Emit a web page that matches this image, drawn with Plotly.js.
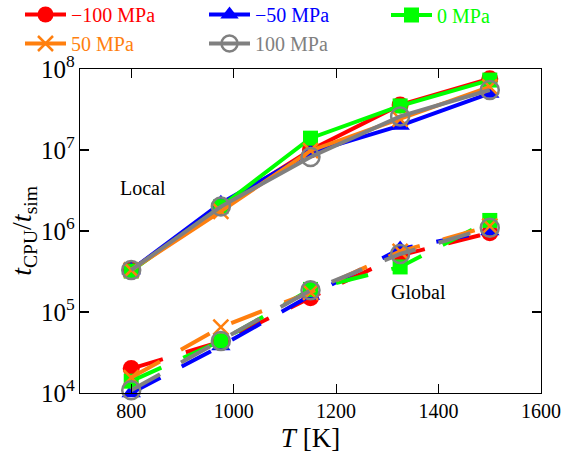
<!DOCTYPE html>
<html>
<head>
<meta charset="utf-8">
<script src="https://cdn.plot.ly/plotly-3.0.1.min.js"></script>
<style>html,body{margin:0;padding:0;background:#fff;}#chart{width:561px;height:456px;}</style>
</head>
<body>
<div id="chart"></div>
<script>
// Temperatures [K]
const temperatures = [800, 975, 1150, 1325, 1500];

// Pressure series labels, colours and markers
const pressureLabels = ["\u2212100 MPa", "\u221250 MPa", "0 MPa", "50 MPa", "100 MPa"];
const colors = ["#ff0000", "#0000ff", "#00ff00", "#ff7f0e", "#808080"];
const symbols = ["circle", "triangle-up", "square", "x-thin-open", "circle-open"];
// legend column each pressure goes into
const legendIds = ["legend", "legend2", "legend3", "legend", "legend2"];

// Local (solid) t_CPU / t_sim values
const localM100 = [3.3e5, 2.0e6, 1.0e7, 3.6e7, 7.6e7];
const localM50  = [3.3e5, 2.2e6, 9.3e6, 2.0e7, 5.0e7];
const localP0   = [3.2e5, 2.0e6, 1.4e7, 3.5e7, 7.3e7];
const localP50  = [3.3e5, 1.75e6, 9.8e6, 2.4e7, 6.0e7];
const localP100 = [3.3e5, 2.0e6, 8.2e6, 2.6e7, 5.5e7];

// Global (dashed) t_CPU / t_sim values
const globalM100 = [2.0e4, 4.3e4, 1.5e5, 5.0e5, 9.5e5];
const globalM50  = [1.0e4, 3.8e4, 1.6e5, 6.0e5, 1.0e6];
const globalP0   = [1.4e4, 4.4e4, 1.9e5, 3.6e5, 1.35e6];
const globalP50  = [1.55e4, 6.5e4, 1.75e5, 5.6e5, 1.15e6];
const globalP100 = [1.08e4, 4.4e4, 1.85e5, 5.2e5, 1.1e6];

const localSeries = [localM100, localM50, localP0, localP50, localP100];
const globalSeries = [globalM100, globalM50, globalP0, globalP50, globalP100];

const FONT = "Liberation Serif, Times New Roman, serif";

function markerFor(i) {
  const open = symbols[i].indexOf("open") >= 0;
  const sizes = [17, 17, 15, 15, 18];
  return {
    symbol: symbols[i],
    size: sizes[i],
    color: colors[i],
    line: {color: colors[i], width: open ? 2.5 : 0}
  };
}

const traces = [];
for (let i = 0; i < pressureLabels.length; i++) {
  traces.push({
    x: temperatures, y: localSeries[i], type: "scatter", mode: "lines+markers",
    name: '<span style="color:' + colors[i] + '">' + pressureLabels[i] + '</span>',
    line: {color: colors[i], width: 4},
    marker: markerFor(i),
    cliponaxis: false,
    legend: legendIds[i],
    showlegend: true
  });
  traces.push({
    x: temperatures, y: globalSeries[i], type: "scatter", mode: "lines+markers",
    name: pressureLabels[i] + " global",
    line: {color: colors[i], width: 4, dash: "33px,24px"},
    marker: markerFor(i),
    cliponaxis: false,
    showlegend: false
  });
}

// xpx: left edge in px; cy: vertical centre of the legend box in px
function legendAt(xpx, cy) {
  return {
    orientation: "v", xref: "container", yref: "container",
    x: xpx / 561, y: 1 - cy / 456, xanchor: "left", yanchor: "middle",
    font: {family: FONT, size: 20},
    itemwidth: 41,
    bgcolor: "rgba(0,0,0,0)", traceorder: "normal", tracegroupgap: 0
  };
}

const layout = {
  width: 561, height: 456,
  margin: {l: 80, r: 20, t: 69, b: 63, autoexpand: false},
  paper_bgcolor: "#fff", plot_bgcolor: "#fff",
  font: {family: FONT, size: 20, color: "#000"},
  showlegend: true,
  legend: legendAt(20, 29),
  legend2: legendAt(204, 29),
  legend3: legendAt(386, 15),
  xaxis: {
    range: [700, 1600], dtick: 200, tick0: 0,
    ticks: "inside", ticklen: 9, tickwidth: 1.2, tickcolor: "#000",
    showline: true, linecolor: "#000", linewidth: 1.2, mirror: "allticks",
    showgrid: false, zeroline: false,
    tickfont: {family: FONT, size: 20},
    title: {text: "<i>T</i> [K]", font: {family: FONT, size: 27}, standoff: 6}
  },
  yaxis: {
    type: "log", range: [4, 8], dtick: 1, exponentformat: "power",
    ticks: "inside", ticklen: 9, tickwidth: 1.2, tickcolor: "#000",
    showline: true, linecolor: "#000", linewidth: 1.2, mirror: "allticks",
    showgrid: false, zeroline: false,
    tickfont: {family: FONT, size: 20},
    title: {text: ""}
  },
  annotations: [
    {x: -0.124, y: 0.5, xref: "paper", yref: "paper", xanchor: "center", yanchor: "middle",
     textangle: -90, showarrow: false,
     text: "<i>t</i><sub>CPU</sub>/<i>t</i><sub>sim</sub>",
     font: {family: FONT, size: 28}},
    {x: 823, y: Math.log10(3.4e6), xref: "x", yref: "y", text: "Local", showarrow: false,
     font: {family: FONT, size: 20}},
    {x: 1360, y: Math.log10(1.77e5), xref: "x", yref: "y", text: "Global", showarrow: false,
     font: {family: FONT, size: 20}}
  ]
};

Plotly.newPlot("chart", traces, layout, {displayModeBar: false, staticPlot: true});
</script>
</body>
</html>
